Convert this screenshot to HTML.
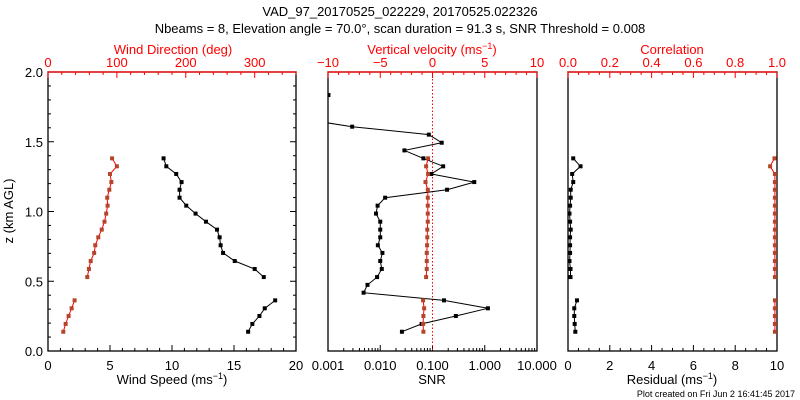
<!DOCTYPE html>
<html><head><meta charset="utf-8"><style>
html,body{margin:0;padding:0;background:#fff;}
svg{display:block;font-family:"Liberation Sans",sans-serif;}
</style></head><body>
<svg id="chart" width="800" height="400" viewBox="0 0 800 400" xmlns="http://www.w3.org/2000/svg">
<defs>
<clipPath id="clipL"><rect x="48" y="72" width="248" height="279"/></clipPath>
<clipPath id="clipM"><rect x="328" y="72" width="209" height="279"/></clipPath>
<clipPath id="clipR"><rect x="568" y="72" width="209" height="279"/></clipPath>
</defs>
<text x="400" y="16" font-size="13" text-anchor="middle">VAD_97_20170525_022229, 20170525.022326</text>
<text x="400" y="33" font-size="13" text-anchor="middle">Nbeams = 8, Elevation angle = 70.0°, scan duration = 91.3 s, SNR Threshold = 0.008</text>
<text x="173" y="54" font-size="13" fill="#f00" text-anchor="middle">Wind Direction (deg)</text>
<text x="432" y="54" font-size="13" fill="#f00" text-anchor="middle">Vertical velocity (ms<tspan dy="-5" font-size="9">−1</tspan><tspan dy="5">)</tspan></text>
<text x="672" y="54" font-size="13" fill="#f00" text-anchor="middle">Correlation</text>
<text x="172" y="384" font-size="13" text-anchor="middle">Wind Speed (ms<tspan dy="-5" font-size="9">−1</tspan><tspan dy="5">)</tspan></text>
<text x="432" y="384" font-size="13" text-anchor="middle">SNR</text>
<text x="672" y="384" font-size="13" text-anchor="middle">Residual (ms<tspan dy="-5" font-size="9">−1</tspan><tspan dy="5">)</tspan></text>
<text x="13" y="211" font-size="13" text-anchor="middle" transform="rotate(-90 13 211)">z (km AGL)</text>
<text x="795" y="397" font-size="9" text-anchor="end">Plot created on Fri Jun  2 16:41:45 2017</text>
<g id="g"></g>
</svg>
<script>
// heights (km)
const hUp = [1.381,1.324,1.269,1.211,1.156,1.099,1.042,0.985,0.927,0.870,0.815,0.758,0.703,0.645,0.588,0.530];
const hLow = [0.363,0.306,0.251,0.194,0.138];
const speedUp = [9.32,9.54,10.34,10.77,10.61,10.61,11.15,11.90,12.74,13.63,13.84,13.92,14.12,15.06,16.67,17.40];
const speedLow = [18.32,17.48,17.05,16.48,16.14];
const dirUp = [93,100,90,92,89,86,86.5,84.5,82,78,73,68.6,67,62,59.4,57];
const dirLow = [38.6,34.3,29.9,25.6,22.2];
const snrHeights = [1.835,1.778,1.72,1.665,1.608,1.551,1.493,1.438,1.381,1.324,1.269,1.211,1.156,1.099,1.042,0.985,0.927,0.870,0.815,0.758,0.703,0.645,0.588,0.530,0.474,0.418,0.363,0.306,0.251,0.194,0.138];
const snrValues = [0.00102,0.0003,0.0003,0.0003,0.0029,0.085,0.15,0.029,0.067,0.16,0.095,0.63,0.19,0.0124,0.0089,0.0083,0.010,0.010,0.010,0.0090,0.011,0.010,0.0107,0.0087,0.0057,0.0048,0.166,1.15,0.28,0.062,0.026];
const wUp = [-0.42,-0.61,-0.42,-0.67,-0.45,-0.45,-0.45,-0.45,-0.45,-0.5,-0.5,-0.52,-0.55,-0.55,-0.55,-0.61];
const wLow = [-0.9,-0.8,-0.87,-0.9,-0.87];
const resUp = [0.25,0.6,0.2,0.25,0.13,0.13,0.1,0.07,0.1,0.13,0.1,0.1,0.1,0.07,0.12,0.12];
const resLow = [0.43,0.3,0.3,0.32,0.35];
const corUp = [0.988,0.967,0.99,0.99,0.99,0.99,0.99,0.99,0.99,0.99,0.99,0.99,0.99,0.99,0.99,0.99];
const corLow = [0.99,0.99,0.99,0.99,0.99];
const yTicks = ['0.0','0.5','1.0','1.5','2.0'];
const speedTicks = ['0','5','10','15','20'];
const dirTicks = ['0','100','200','300'];
const snrTicks = ['0.001','0.010','0.100','1.000','10.000'];
const wTicks = ['−10','−5','0','5','10'];
const resTicks = ['0','2','4','6','8','10'];
const corTicks = ['0.0','0.2','0.4','0.6','0.8','1.0'];

const NS='http://www.w3.org/2000/svg';
const G=document.getElementById('g');
const Y0=351, Y1=72;
const y=h=>Y0-(h/2)*(Y0-Y1);
const L={x0:48,x1:296}, M={x0:328,x1:537}, R={x0:568,x1:777};
const lin=(p,a,b)=>v=>p.x0+(v-a)/(b-a)*(p.x1-p.x0);
const xSpeed=lin(L,0,20), xDir=lin(L,0,360), xW=lin(M,-10,10), xRes=lin(R,0,10), xCor=lin(R,0,1);
const xSnr=v=>M.x0+(Math.log10(v)+3)/4*(M.x1-M.x0);
function el(tag,attrs,parent){const e=document.createElementNS(NS,tag);for(const k in attrs)e.setAttribute(k,attrs[k]);(parent||G).appendChild(e);return e;}
function txt(x,yy,s,col,anchor){const t=el('text',{x:x,y:yy,'font-size':13,fill:col,'text-anchor':anchor||'middle'});t.textContent=s;return t;}

[[L,'left-panel'],[M,'middle-panel'],[R,'right-panel']].forEach(([p,n])=>{
  const r=el('rect',{x:p.x0,y:Y1,width:p.x1-p.x0,height:Y0-Y1,fill:'none',stroke:'#000','stroke-width':1.3});
  
  
});
for(let i=0;i<=20;i++){const h=i/10, len=(i%5===0)?6:3, yy=y(h);
  el('line',{x1:L.x0,x2:L.x0+len,y1:yy,y2:yy,stroke:'#000'});
  el('line',{x1:L.x1,x2:L.x1-len,y1:yy,y2:yy,stroke:'#000'});}
yTicks.forEach(s=>{const t=txt(43,y(parseFloat(s))+5,s,'#000','end');
  
  });
function linTicks(f,a,b,minor,major,yy,dir,col){for(let v=a;v<=b+1e-9;v+=minor){const isM=Math.abs(v/major-Math.round(v/major))<1e-6;const x=f(v);el('line',{x1:x,x2:x,y1:yy,y2:yy+dir*(isM?6:3),stroke:col});}}
linTicks(xSpeed,0,20,1,5,Y0,-1,'#000');
linTicks(xDir,0,360,20,100,Y1,1,'#f00');
linTicks(xW,-10,10,1,5,Y1,1,'#f00');
linTicks(xRes,0,10,0.5,2,Y0,-1,'#000');
linTicks(xCor,0,1,0.05,0.2,Y1,1,'#f00');
el('line',{x1:L.x0,x2:L.x1,y1:Y1,y2:Y1,stroke:'#f00','stroke-width':1.3});
el('line',{x1:M.x0,x2:M.x1,y1:Y1,y2:Y1,stroke:'#f00','stroke-width':1.3});
el('line',{x1:R.x0,x2:R.x1,y1:Y1,y2:Y1,stroke:'#f00','stroke-width':1.3});
for(let d=-3;d<1;d++)for(let k=1;k<=9;k++){const x=xSnr(k*Math.pow(10,d));el('line',{x1:x,x2:x,y1:Y0,y2:Y0-(k===1?6:3),stroke:'#000'});}
speedTicks.forEach(s=>{const t=txt(xSpeed(+s),370,s,'#000');});
dirTicks.forEach(s=>{const t=txt(xDir(+s),67,s,'#f00');});
snrTicks.forEach(s=>{const t=txt(xSnr(+s),370,s,'#000');});
wTicks.forEach(s=>{const t=txt(xW(+s.replace('−','-')),67,s,'#f00');});
resTicks.forEach(s=>{const t=txt(xRes(+s),370,s,'#000');});
corTicks.forEach(s=>{const t=txt(xCor(+s),67,s,'#f00');});
const zl=el('line',{x1:xW(0),x2:xW(0),y1:Y1,y2:Y0,stroke:'#f00','stroke-dasharray':'1.5,2'});



function series(xs,hs,fx,lineCol,markCol,clip,name){
  const g=el('g',{'clip-path':'url(#'+clip+')'});
  
  
  const pts=xs.map((v,i)=>fx(v).toFixed(1)+','+y(hs[i]).toFixed(1)).join(' ');
  el('polyline',{points:pts,fill:'none',stroke:lineCol,'stroke-width':1},g);
  xs.forEach((v,i)=>{const m=el('rect',{x:fx(v)-2,y:y(hs[i])-2,width:4,height:4,fill:markCol},g);
    
    });
}
series(speedUp,hUp,xSpeed,'#000','#000','clipL','wind-speed-upper');
series(speedLow,hLow,xSpeed,'#000','#000','clipL','wind-speed-lower');
series(dirUp,hUp,xDir,'#f00','#b5442a','clipL','wind-direction-upper');
series(dirLow,hLow,xDir,'#f00','#b5442a','clipL','wind-direction-lower');
series(snrValues,snrHeights,xSnr,'#000','#000','clipM','snr');
series(wUp,hUp,xW,'#f00','#b5442a','clipM','vertical-velocity-upper');
series(wLow,hLow,xW,'#f00','#b5442a','clipM','vertical-velocity-lower');
series(resUp,hUp,xRes,'#000','#000','clipR','residual-upper');
series(resLow,hLow,xRes,'#000','#000','clipR','residual-lower');
series(corUp,hUp,xCor,'#f00','#b5442a','clipR','correlation-upper');
series(corLow,hLow,xCor,'#f00','#b5442a','clipR','correlation-lower');
</script>
</body></html>
